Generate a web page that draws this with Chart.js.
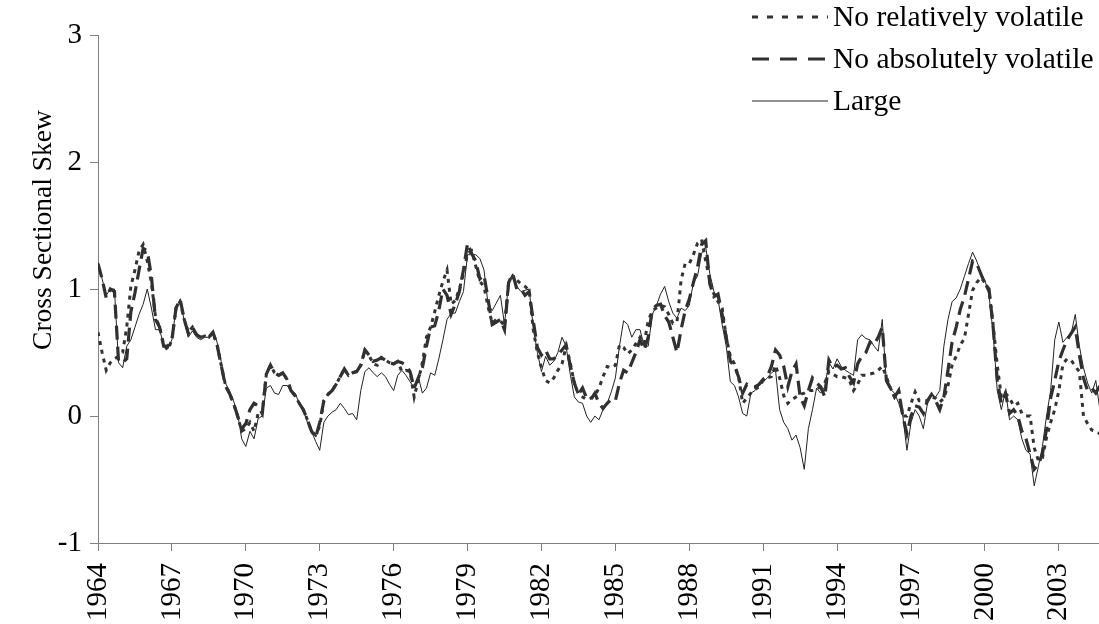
<!DOCTYPE html>
<html>
<head>
<meta charset="utf-8">
<script src="https://cdn.jsdelivr.net/npm/chart.js@4.4.1/dist/chart.umd.min.js"></script>
<style>
  html, body { margin: 0; padding: 0; background: #fff; }
  #wrap { width: 1099px; height: 624px; }
</style>
</head>
<body>
<div id="wrap"><canvas id="chart" width="1099" height="624"></canvas></div>
<script>
// bi-monthly observations starting Jan 1964
const startYear = 1964
const pointsPerYear = 6
const tickStepYears = 3

const seriesLabels = ['No relatively volatile', 'No absolutely volatile', 'Large']

const noRelVolatile = [
  0.66, 0.50, 0.36, 0.42, 0.45, 0.47, 0.50, 0.70, 1.02, 1.15, 1.30, 1.35,
  1.22, 1.05, 0.78, 0.70, 0.56, 0.52, 0.60, 0.85, 0.90, 0.76, 0.66, 0.70,
  0.64, 0.62, 0.63, 0.62, 0.66, 0.56, 0.40, 0.25, 0.18, 0.10, 0.0, -0.12,
  -0.10, -0.05, -0.12, 0.02,
  0.02, 0.33, 0.40, 0.34, 0.32, 0.34, 0.29, 0.20, 0.16, 0.10, 0.05, -0.03,
  -0.12, -0.15, -0.08, 0.12, 0.17, 0.20, 0.25, 0.31, 0.37, 0.32, 0.34, 0.35,
  0.40, 0.52, 0.48, 0.41, 0.40, 0.46, 0.44, 0.42, 0.41, 0.43, 0.35, 0.36,
  0.35, 0.15, 0.28,
  0.42, 0.62, 0.70, 0.82, 0.95, 1.06, 1.15, 0.88, 0.91, 1.0, 1.12, 1.28,
  1.30, 1.18, 1.06, 1.02, 0.86, 0.73, 0.76, 0.75, 0.71, 1.05, 1.10, 1.07,
  1.04, 1.02, 0.99, 0.68, 0.50, 0.38, 0.28, 0.26, 0.30, 0.36, 0.41, 0.55,
  0.42, 0.26, 0.17,
  0.15, 0.13, 0.14, 0.16, 0.22, 0.31, 0.39, 0.38, 0.40, 0.56, 0.54, 0.49,
  0.52, 0.57, 0.62, 0.57, 0.75, 0.83, 0.85, 0.87, 0.86, 0.80, 0.73, 0.74,
  1.07, 1.20, 1.20, 1.27, 1.36, 1.39, 1.22, 1.07, 0.96, 0.90, 0.85, 0.62,
  0.47, 0.41, 0.31,
  0.10, 0.14, 0.18, 0.21, 0.23, 0.28, 0.30, 0.31, 0.40, 0.30, 0.16, 0.10,
  0.13, 0.15, 0.17, 0.18, 0.20, 0.20, 0.21, 0.23, 0.26, 0.35, 0.33, 0.31,
  0.31, 0.30, 0.28, 0.20, 0.25, 0.32, 0.32, 0.33, 0.34, 0.36, 0.39, 0.31,
  0.22, 0.15, 0.20,
  0.0, 0.0, 0.10, 0.19, 0.12, 0.12, 0.12, 0.15, 0.14, 0.11, 0.14, 0.24,
  0.40, 0.47, 0.56, 0.61, 0.80, 0.99, 1.05, 1.09, 1.05, 0.98, 0.72, 0.40,
  0.15, 0.18, 0.14, 0.08, 0.10, 0.02, 0.0, 0.0, -0.25, -0.35, -0.33, -0.17,
  -0.05, 0.05, 0.20, 0.41, 0.45, 0.44, 0.39, 0.35, 0.0, -0.06, -0.11, -0.12,
  -0.14
]

const noAbsVolatile = [
  1.20, 1.08, 0.93, 1.0, 0.98, 0.43, 0.42, 0.45, 0.82, 0.97, 1.15, 1.32,
  1.30, 1.10, 0.76, 0.70, 0.55, 0.55, 0.60, 0.85, 0.92, 0.76, 0.65, 0.70,
  0.64, 0.62, 0.63, 0.62, 0.66, 0.56, 0.40, 0.24, 0.18, 0.10, 0.0, -0.10,
  -0.06, 0.05, 0.10, 0.08,
  0.02, 0.33, 0.40, 0.34, 0.32, 0.34, 0.29, 0.20, 0.16, 0.10, 0.05, -0.03,
  -0.12, -0.17, -0.05, 0.12, 0.17, 0.20, 0.25, 0.31, 0.37, 0.32, 0.34, 0.35,
  0.40, 0.52, 0.48, 0.43, 0.44, 0.46, 0.44, 0.42, 0.41, 0.43, 0.42, 0.40,
  0.35, 0.22, 0.30,
  0.38, 0.55, 0.70, 0.71, 0.83, 1.0, 0.95, 0.80, 0.88, 0.98, 1.15, 1.36,
  1.28, 1.22, 1.08, 1.11, 0.92, 0.72, 0.74, 0.76, 0.68, 1.05, 1.12, 1.0,
  1.0, 0.95, 0.98, 0.75, 0.54, 0.48, 0.52, 0.45, 0.45, 0.48, 0.52, 0.56,
  0.40, 0.26, 0.17,
  0.22, 0.14, 0.13, 0.18, 0.10, 0.06, 0.10, 0.13, 0.12, 0.26, 0.36, 0.34,
  0.42, 0.50, 0.60, 0.52, 0.62, 0.84, 0.87, 0.88, 0.79, 0.74, 0.62, 0.50,
  0.68, 0.83, 0.92, 1.05, 1.17, 1.35, 1.38, 1.04, 0.94, 0.96, 0.80, 0.62,
  0.43, 0.39, 0.31,
  0.18, 0.25, 0.23, 0.23, 0.25, 0.29, 0.31, 0.39, 0.52, 0.48, 0.39, 0.23,
  0.35, 0.41, 0.15, 0.08, 0.20, 0.30, 0.26, 0.23, 0.15, 0.44, 0.38, 0.40,
  0.37, 0.38, 0.31, 0.26, 0.41, 0.47, 0.50, 0.58, 0.56, 0.62, 0.70, 0.28,
  0.22, 0.15, 0.20,
  0.0, -0.14, 0.0, 0.08, 0.07, 0.02, 0.12, 0.17, 0.12, 0.05, 0.15, 0.36,
  0.58, 0.70, 0.84, 0.94, 1.08, 1.22, 1.20, 1.12, 1.04, 1.0, 0.70, 0.28,
  0.10, 0.18, 0.02, 0.05, 0.0, -0.12, -0.18, -0.30, -0.42, -0.38, -0.30, -0.10,
  0.14, 0.28, 0.43, 0.52, 0.60, 0.65, 0.70, 0.48, 0.30, 0.20, 0.22, 0.18,
  0.24
]

const large = [
  1.21, 1.08, 0.95, 1.0, 1.0, 0.42, 0.38, 0.55, 0.60, 0.70, 0.80, 0.88,
  1.00, 0.85, 0.68, 0.68, 0.56, 0.53, 0.60, 0.85, 0.92, 0.75, 0.62, 0.67,
  0.62, 0.60, 0.62, 0.62, 0.67, 0.58, 0.43, 0.26, 0.20, 0.12, 0.02, -0.18,
  -0.24, -0.12, -0.18, -0.02,
  0.0, 0.22, 0.24, 0.18, 0.17, 0.24, 0.24, 0.20, 0.18, 0.10, 0.05, -0.05,
  -0.12, -0.20, -0.27, -0.05, 0.0, 0.03, 0.05, 0.10, 0.06, 0.01, 0.02, -0.03,
  0.20, 0.35, 0.38, 0.34, 0.31, 0.34, 0.31, 0.25, 0.20, 0.32, 0.36, 0.32,
  0.27, 0.22, 0.31,
  0.18, 0.22, 0.34, 0.32, 0.45, 0.60, 0.76, 0.81, 0.81, 0.90, 0.98, 1.27,
  1.27, 1.27, 1.24, 1.15, 0.88, 0.83, 0.89, 0.95, 0.72, 1.05, 1.12, 1.02,
  0.98, 0.99, 1.0, 0.70, 0.50, 0.35, 0.47, 0.40, 0.43, 0.50, 0.62, 0.55,
  0.33, 0.15, 0.11,
  0.10, 0.0, -0.05, 0.0, -0.03, 0.05, 0.10, 0.19, 0.30, 0.55, 0.75, 0.72,
  0.62, 0.68, 0.68, 0.55, 0.55, 0.80, 0.87, 0.96, 1.02, 0.90, 0.81, 0.77,
  0.85, 0.83, 0.87, 1.05, 1.10, 1.28, 1.33, 1.12, 0.98, 0.92, 0.72, 0.55,
  0.27, 0.24, 0.15,
  0.02, 0.0, 0.18, 0.20, 0.24, 0.27, 0.30, 0.34, 0.36, 0.05, -0.05, -0.10,
  -0.19, -0.15, -0.25, -0.42, -0.10, 0.05, 0.22, 0.18, 0.23, 0.42, 0.37, 0.45,
  0.39, 0.36, 0.34, 0.32, 0.60, 0.64, 0.61, 0.60, 0.55, 0.51, 0.76, 0.26,
  0.21, 0.18, 0.10,
  0.0, -0.27, -0.05, 0.05, 0.0, -0.10, 0.10, 0.17, 0.15, 0.20, 0.55, 0.76,
  0.90, 0.93, 1.0, 1.10, 1.20, 1.29, 1.22, 1.13, 1.07, 0.95, 0.65, 0.20,
  0.05, 0.20, -0.03, 0.0, -0.03, -0.18, -0.27, -0.30, -0.55, -0.40, -0.24, 0.0,
  0.20, 0.60, 0.74, 0.58, 0.62, 0.65, 0.80, 0.55, 0.38, 0.26, 0.18, 0.28,
  0.05
]

const FONT = 'Liberation Serif, Times New Roman, serif'

const toPoints = values => values.map((v, i) => ({ x: i / pointsPerYear, y: v }))

// legend drawn inside the plot, top right (legend keys use a slightly longer dash)
const legendDash = [[6, 9], [17, 11], []]
const legendInPlot = {
  id: 'legendInPlot',
  afterDraw(chart) {
    const ctx = chart.ctx
    const rows = [17, 59, 101]
    ctx.save()
    chart.data.datasets.forEach((ds, i) => {
      const y = rows[i]
      ctx.beginPath()
      ctx.setLineDash(legendDash[i])
      ctx.lineWidth = ds.borderWidth
      ctx.strokeStyle = ds.borderColor
      ctx.moveTo(752, y)
      ctx.lineTo(828, y)
      ctx.stroke()
      ctx.setLineDash([])
      ctx.fillStyle = '#000'
      ctx.font = '29.5px ' + FONT
      ctx.textAlign = 'left'
      ctx.textBaseline = 'middle'
      ctx.fillText(ds.label, 833, y + 1)
    })
    ctx.restore()
  },
}

const yTitle = {
  id: 'yTitle',
  afterDraw(chart) {
    const ctx = chart.ctx
    ctx.save()
    ctx.translate(44, 230)
    ctx.rotate(-Math.PI / 2)
    ctx.fillStyle = '#000'
    ctx.font = '27.5px ' + FONT
    ctx.textAlign = 'center'
    ctx.textBaseline = 'middle'
    ctx.fillText('Cross Sectional Skew', 0, 0)
    ctx.restore()
  },
}

const axisColor = '#808080'

new Chart(document.getElementById('chart').getContext('2d'), {
  type: 'line',
  data: {
    datasets: [
      {
        label: seriesLabels[0],
        data: toPoints(noRelVolatile),
        borderColor: '#333',
        borderWidth: 3,
        borderDash: [4, 5],
        pointRadius: 0,
        tension: 0,
      },
      {
        label: seriesLabels[1],
        data: toPoints(noAbsVolatile),
        borderColor: '#303030',
        borderWidth: 3.2,
        borderDash: [14, 7],
        pointRadius: 0,
        tension: 0,
      },
      {
        label: seriesLabels[2],
        data: toPoints(large),
        borderColor: '#222',
        borderWidth: 1,
        pointRadius: 0,
        tension: 0,
      },
    ],
  },
  options: {
    responsive: false,
    animation: false,
    layout: { padding: { top: 35, right: 0, left: 0, bottom: 0 } },
    plugins: {
      legend: { display: false },
      tooltip: { enabled: false },
    },
    scales: {
      x: {
        type: 'linear',
        min: 0,
        max: 40.63,
        afterFit: scale => {
          scale.height = 81
          scale.paddingRight = 0
        },
        border: { display: true, color: axisColor, width: 1 },
        grid: { drawOnChartArea: false, drawTicks: true, tickLength: 8, tickColor: axisColor },
        ticks: {
          stepSize: tickStepYears,
          includeBounds: false,
          autoSkip: false,
          minRotation: 90,
          maxRotation: 90,
          padding: 12,
          color: '#000',
          font: { family: FONT, size: 29 },
          callback: value => String(startYear + value),
        },
      },
      y: {
        min: -1,
        max: 3,
        afterFit: scale => { scale.width = 98 },
        border: { display: true, color: axisColor, width: 1 },
        grid: { drawOnChartArea: false, drawTicks: true, tickLength: 8, tickColor: axisColor },
        ticks: {
          stepSize: 1,
          padding: 8,
          color: '#000',
          font: { family: FONT, size: 29 },
        },
      },
    },
  },
  plugins: [legendInPlot, yTitle],
})
</script>
</body>
</html>
